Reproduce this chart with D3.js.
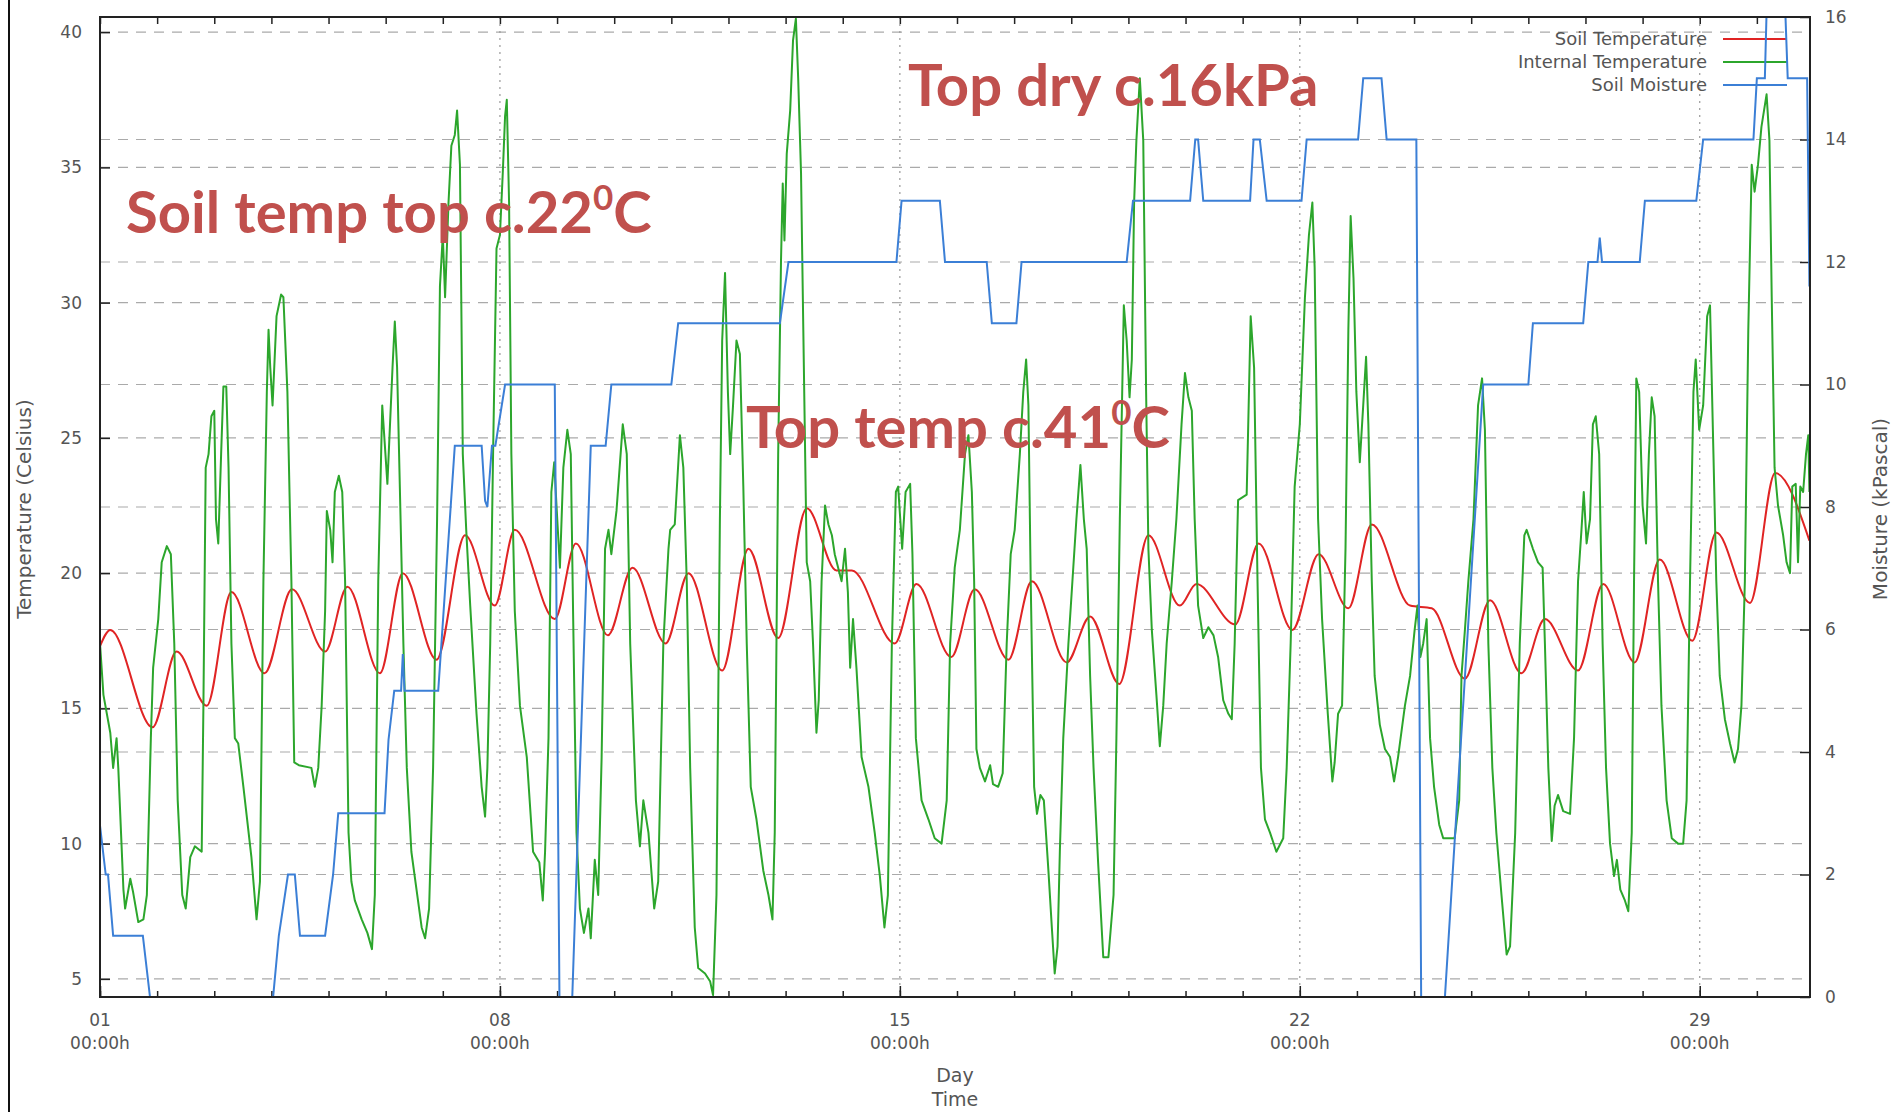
<!DOCTYPE html>
<html>
<head>
<meta charset="utf-8">
<script src="https://cdn.jsdelivr.net/npm/d3@7"></script>
<style>
  body { margin: 0; background: #fff; }
  svg { display: block; }
</style>
</head>
<body>
<div id="chart"></div>
<script>
// readings: [day of month, value]
let soilTemp = [
  [1.00,17.3],[1.18,17.9],[1.92,14.3],[2.34,17.1],[2.87,15.1],[3.30,19.3],[3.88,16.3],[4.36,19.4],
  [4.94,17.1],[5.33,19.5],[5.90,16.3],[6.30,20.0],[6.89,16.8],[7.39,21.4],[7.91,18.8],[8.26,21.6],
  [8.96,18.3],[9.33,21.1],[9.89,17.7],[10.32,20.2],[10.90,17.4],[11.30,20.0],[11.89,16.4],[12.35,20.9],
  [12.87,17.6],[13.37,22.4],[13.89,20.1],[14.16,20.1],[14.91,17.4],[15.29,19.6],[15.90,16.9],[16.31,19.4],
  [16.90,16.8],[17.31,19.7],[17.92,16.7],[18.33,18.4],[18.84,15.9],[19.35,21.4],[19.90,18.8],[20.19,19.6],
  [20.87,18.1],[21.28,21.1],[21.87,17.9],[22.33,20.7],[22.85,18.7],[23.26,21.8],[23.93,18.8],[24.31,18.7],
  [24.89,16.1],[25.33,19.0],[25.88,16.3],[26.29,18.3],[26.87,16.4],[27.31,19.6],[27.86,16.7],[28.30,20.5],
  [28.87,17.5],[29.29,21.5],[29.88,18.9],[30.32,23.7],[30.92,21.2]
];

let internalTemp = [
  [1.00,17.4],[1.06,15.5],[1.18,14.1],[1.23,12.8],[1.29,13.9],[1.32,12.8],[1.41,8.3],[1.44,7.6],[1.53,8.7],
  [1.58,8.2],[1.67,7.1],[1.76,7.2],[1.82,8.1],[1.89,13.9],[1.93,16.5],[2.02,18.3],[2.08,20.4],[2.17,21.0],
  [2.24,20.7],[2.30,17.4],[2.36,11.6],[2.44,8.1],[2.50,7.6],[2.58,9.5],[2.66,9.9],[2.78,9.7],[2.81,15.1],
  [2.85,23.9],[2.90,24.4],[2.95,25.8],[3.00,26.0],[3.03,22.0],[3.07,21.1],[3.12,24.4],[3.16,26.9],[3.21,26.9],
  [3.25,23.9],[3.30,17.4],[3.36,13.9],[3.42,13.7],[3.51,12.1],[3.65,9.5],[3.74,7.2],[3.80,8.6],[3.86,19.7],
  [3.92,26.7],[3.95,29.0],[3.98,27.6],[4.02,26.2],[4.09,29.5],[4.17,30.3],[4.21,30.2],[4.28,26.7],[4.35,19.7],
  [4.40,13.0],[4.48,12.9],[4.70,12.8],[4.76,12.1],[4.82,12.8],[4.88,15.1],[4.94,18.6],[4.97,22.3],[5.03,21.6],
  [5.07,20.4],[5.11,23.0],[5.18,23.6],[5.24,23.0],[5.29,19.7],[5.35,10.4],[5.40,8.6],[5.46,7.9],[5.58,7.2],
  [5.68,6.7],[5.76,6.1],[5.81,8.1],[5.87,19.7],[5.94,26.2],[6.03,23.3],[6.12,27.6],[6.16,29.3],[6.20,27.6],
  [6.25,23.0],[6.31,17.4],[6.37,12.8],[6.45,9.7],[6.54,8.3],[6.63,6.9],[6.69,6.5],[6.76,7.6],[6.83,12.8],
  [6.90,22.0],[6.95,30.6],[7.00,32.5],[7.04,30.2],[7.10,33.7],[7.15,35.8],[7.21,36.2],[7.25,37.1],[7.30,35.1],
  [7.35,24.4],[7.41,21.6],[7.48,18.8],[7.59,14.8],[7.68,12.1],[7.74,11.0],[7.78,12.8],[7.83,17.4],[7.88,24.4],
  [7.94,32.0],[8.00,32.5],[8.05,34.8],[8.09,36.9],[8.12,37.5],[8.16,33.7],[8.20,24.4],[8.26,18.6],[8.35,15.1],
  [8.47,13.2],[8.58,9.7],[8.69,9.3],[8.75,7.9],[8.79,9.7],[8.85,13.9],[8.90,23.0],[8.95,24.1],[8.99,22.5],
  [9.05,20.2],[9.11,23.9],[9.18,25.3],[9.24,24.4],[9.28,18.6],[9.34,10.4],[9.40,7.6],[9.47,6.7],[9.55,7.6],
  [9.59,6.5],[9.66,9.4],[9.72,8.1],[9.78,13.2],[9.84,20.9],[9.90,21.6],[9.95,20.7],[10.04,22.3],[10.15,25.5],
  [10.22,24.4],[10.28,17.4],[10.38,11.6],[10.45,9.9],[10.51,11.6],[10.60,10.4],[10.70,7.6],[10.77,8.6],
  [10.86,17.4],[10.95,20.9],[10.98,21.6],[11.06,21.8],[11.15,25.1],[11.21,23.9],[11.27,19.7],[11.33,12.8],
  [11.41,6.9],[11.47,5.4],[11.59,5.2],[11.68,4.9],[11.73,4.4],[11.79,8.1],[11.85,22.0],[11.89,28.6],[11.94,31.1],
  [11.99,26.7],[12.03,24.4],[12.08,26.2],[12.14,28.6],[12.20,28.1],[12.26,23.2],[12.32,17.4],[12.39,12.1],
  [12.49,10.9],[12.61,9.0],[12.70,8.1],[12.77,7.2],[12.81,10.4],[12.87,24.4],[12.92,31.6],[12.95,34.4],
  [12.98,32.3],[13.02,35.5],[13.08,37.1],[13.13,39.7],[13.18,40.5],[13.22,38.3],[13.27,34.8],[13.31,29.0],
  [13.37,20.4],[13.43,19.7],[13.48,17.4],[13.54,14.1],[13.58,15.3],[13.63,19.7],[13.69,22.5],[13.75,21.8],
  [13.81,21.4],[13.86,20.7],[13.92,20.2],[13.98,19.7],[14.04,20.9],[14.09,19.3],[14.13,16.5],[14.18,18.3],
  [14.24,16.5],[14.33,13.2],[14.45,12.1],[14.56,10.4],[14.65,8.8],[14.73,6.9],[14.79,8.1],[14.86,17.4],
  [14.93,23.0],[14.97,23.2],[15.04,20.9],[15.10,23.0],[15.18,23.3],[15.22,20.7],[15.28,13.9],[15.38,11.6],
  [15.50,10.9],[15.61,10.2],[15.73,10.0],[15.82,11.6],[15.88,17.4],[15.96,20.2],[16.05,21.6],[16.14,24.4],
  [16.20,25.1],[16.26,23.0],[16.30,19.7],[16.34,13.5],[16.40,12.8],[16.49,12.3],[16.58,12.9],[16.63,12.2],
  [16.72,12.1],[16.80,12.6],[16.87,17.4],[16.94,20.7],[17.01,21.6],[17.10,24.4],[17.16,26.7],[17.21,27.9],
  [17.25,26.2],[17.29,19.7],[17.35,12.1],[17.40,11.1],[17.46,11.8],[17.52,11.6],[17.60,9.0],[17.66,6.9],
  [17.71,5.2],[17.76,6.2],[17.80,9.7],[17.86,13.9],[17.95,17.4],[18.02,19.7],[18.09,22.0],[18.16,24.0],
  [18.22,22.0],[18.27,20.9],[18.33,16.2],[18.39,12.8],[18.47,9.3],[18.56,5.8],[18.65,5.8],[18.74,8.1],
  [18.79,13.9],[18.85,22.0],[18.92,29.9],[18.97,28.6],[19.02,26.5],[19.06,27.9],[19.10,33.7],[19.14,36.0],
  [19.20,38.3],[19.26,36.0],[19.31,26.7],[19.35,20.9],[19.41,17.9],[19.49,15.5],[19.55,13.6],[19.61,15.1],
  [19.67,17.4],[19.76,19.7],[19.84,22.0],[19.93,25.5],[19.99,27.4],[20.05,26.5],[20.11,26.0],[20.16,22.0],
  [20.22,18.8],[20.31,17.6],[20.40,18.0],[20.49,17.7],[20.57,16.9],[20.66,15.3],[20.75,14.8],[20.81,14.6],
  [20.86,17.4],[20.92,22.7],[21.07,22.9],[21.14,29.5],[21.20,27.6],[21.26,19.7],[21.32,12.8],[21.39,10.9],
  [21.48,10.4],[21.59,9.7],[21.71,10.2],[21.77,12.8],[21.84,17.4],[21.91,23.2],[22.00,25.5],[22.09,30.2],
  [22.16,32.5],[22.22,33.7],[22.26,31.3],[22.32,22.0],[22.39,18.3],[22.49,14.8],[22.57,12.3],[22.61,13.0],
  [22.67,14.8],[22.74,15.1],[22.80,20.9],[22.85,29.0],[22.89,33.2],[22.94,30.9],[22.99,26.7],[23.05,24.1],
  [23.11,26.2],[23.16,28.0],[23.20,25.5],[23.26,19.7],[23.31,16.2],[23.40,14.4],[23.49,13.5],[23.58,13.2],
  [23.65,12.3],[23.72,13.2],[23.84,15.1],[23.93,16.2],[24.01,17.9],[24.06,18.8],[24.11,16.9],[24.16,17.4],
  [24.22,18.3],[24.28,13.9],[24.35,12.1],[24.44,10.7],[24.51,10.2],[24.63,10.2],[24.71,10.2],[24.79,11.6],
  [24.83,16.2],[24.89,17.9],[24.95,19.7],[25.04,22.0],[25.12,26.2],[25.19,27.2],[25.24,25.3],[25.30,17.4],
  [25.37,12.8],[25.44,10.4],[25.53,8.1],[25.62,5.9],[25.68,6.2],[25.77,10.4],[25.85,17.4],[25.93,21.4],
  [25.97,21.6],[26.08,20.9],[26.17,20.4],[26.25,20.2],[26.29,17.4],[26.35,12.8],[26.41,10.1],[26.46,11.4],
  [26.52,11.8],[26.61,11.2],[26.73,11.1],[26.80,13.9],[26.87,19.7],[26.93,21.6],[26.97,23.0],[27.02,21.1],
  [27.08,22.0],[27.13,25.5],[27.18,25.8],[27.24,24.4],[27.30,17.4],[27.36,12.8],[27.43,10.0],[27.50,8.8],
  [27.55,9.4],[27.61,8.3],[27.69,7.9],[27.75,7.5],[27.81,10.4],[27.85,19.7],[27.89,27.2],[27.94,26.7],
  [28.00,22.5],[28.06,21.1],[28.11,24.4],[28.16,26.5],[28.21,25.8],[28.27,19.7],[28.33,15.1],[28.42,11.6],
  [28.51,10.2],[28.62,10.0],[28.71,10.0],[28.77,11.6],[28.83,19.7],[28.89,26.7],[28.93,27.9],[28.99,25.3],
  [29.06,26.2],[29.13,29.5],[29.18,29.9],[29.24,24.4],[29.29,19.7],[29.35,16.2],[29.44,14.6],[29.53,13.7],
  [29.61,13.0],[29.67,13.5],[29.73,15.1],[29.79,19.7],[29.85,29.0],[29.91,35.1],[29.96,34.1],[30.02,35.1],
  [30.08,36.5],[30.17,37.7],[30.22,36.0],[30.26,30.2],[30.31,23.9],[30.37,22.5],[30.46,21.4],[30.52,20.4],
  [30.58,20.0],[30.62,23.2],[30.68,23.3],[30.72,20.4],[30.76,23.2],[30.81,23.0],[30.86,24.4],[30.90,25.1],
  [30.92,23.0]
];

let soilMoisture = [
  [1.00,2.8],[1.10,2.0],[1.14,2.0],[1.23,1.0],[1.75,1.0],[2.00,-1],[3.93,-1],[4.13,1.0],[4.29,2.0],
  [4.41,2.0],[4.50,1.0],[4.94,1.0],[5.08,2.0],[5.17,3.0],[5.98,3.0],[6.05,4.2],[6.15,5.0],[6.27,5.0],
  [6.30,5.6],[6.33,5.0],[6.92,5.0],[7.21,9.0],[7.68,9.0],[7.74,8.1],[7.78,8.0],[7.86,9.0],[7.92,9.0],
  [8.09,10.0],[8.96,10.0],[9.05,-1],[9.23,-1],[9.59,9.0],[9.85,9.0],[9.95,10.0],[11.00,10.0],[11.12,11.0],
  [12.90,11.0],[13.05,12.0],[14.94,12.0],[15.03,13.0],[15.70,13.0],[15.79,12.0],[16.52,12.0],[16.61,11.0],
  [17.04,11.0],[17.13,12.0],[18.97,12.0],[19.08,13.0],[20.08,13.0],[20.17,14.0],[20.22,14.0],[20.31,13.0],
  [21.13,13.0],[21.19,14.0],[21.30,14.0],[21.42,13.0],[22.03,13.0],[22.12,14.0],[23.02,14.0],[23.11,15.0],
  [23.43,15.0],[23.52,14.0],[24.04,14.0],[24.13,-1],[24.48,-1],[24.54,0],[25.21,10.0],[26.00,10.0],
  [26.08,11.0],[26.96,11.0],[27.05,12.0],[27.21,12.0],[27.25,12.4],[27.29,12.0],[27.95,12.0],[28.04,13.0],
  [28.94,13.0],[29.06,14.0],[29.94,14.0],[30.00,15.0],[30.14,15.0],[30.19,16.8],[30.47,16.8],[30.54,15.0],
  [30.88,15.0],[30.92,11.6]
];

let tempTicks = [5, 10, 15, 20, 25, 30, 35, 40];
let moistureTicks = [0, 2, 4, 6, 8, 10, 12, 14, 16];
let dayMajor = [1, 8, 15, 22, 29];
let dayLabels = ["01", "08", "15", "22", "29"];
let dayMinor = d3.range(1, 31);
let seriesNames = ["Soil Temperature", "Internal Temperature", "Soil Moisture"];
let seriesColors = ["#e02424", "#2ca62c", "#3b7fd6"];
let notes = [
  { text: "Soil temp top c.22", sup: "0", tail: "C", x: 126, y: 233 },
  { text: "Top dry c.16kPa", sup: "", tail: "", x: 908, y: 106 },
  { text: "Top temp c.41", sup: "0", tail: "C", x: 746, y: 448 }
];

let w = 1901;
let h = 1112;
let pLeft = 100, pRight = 1810, pTop = 17, pBottom = 997;
let labelFont = "'DejaVu Sans', sans-serif";
let labelColor = "#555";

let svg = d3.select("#chart")
  .append("svg")
  .attr("width", w)
  .attr("height", h)
  .style("background-color", "white");

let x = d3.scaleLinear().domain([1, 30.93]).range([pLeft, pRight]);
let yT = d3.scaleLinear().domain([4.33, 40.56]).range([pBottom, pTop]);
let yM = d3.scaleLinear().domain([0, 16]).range([pBottom, pTop]);

// slide edge on the left
svg.append("line")
  .attr("x1", 9).attr("x2", 9).attr("y1", 0).attr("y2", h)
  .attr("stroke", "#111").attr("stroke-width", 2);

// grid
let grid = svg.append("g");
grid.selectAll(".gt")
  .data(tempTicks)
  .join("line")
  .attr("x1", pLeft).attr("x2", pRight)
  .attr("y1", d => yT(d)).attr("y2", d => yT(d))
  .attr("stroke", "#aaa").attr("stroke-width", 1.2)
  .attr("stroke-dasharray", "10,8");
grid.selectAll(".gm")
  .data(moistureTicks.filter(d => d > 0 && d < 16))
  .join("line")
  .attr("x1", pLeft).attr("x2", pRight)
  .attr("y1", d => yM(d)).attr("y2", d => yM(d))
  .attr("stroke", "#aaa").attr("stroke-width", 1.2)
  .attr("stroke-dasharray", "10,8");
grid.selectAll(".gx")
  .data(dayMajor.slice(1))
  .join("line")
  .attr("x1", d => x(d)).attr("x2", d => x(d))
  .attr("y1", pTop).attr("y2", pBottom)
  .attr("stroke", "#999").attr("stroke-width", 1.2)
  .attr("stroke-dasharray", "2,5");

// axes (ticks point inward like gnuplot)
function styleAxis(g) {
  g.select(".domain").remove();
  g.selectAll("line").attr("stroke", "#222").attr("stroke-width", 1.5);
  g.attr("font-family", labelFont).attr("font-size", 17);
  g.selectAll("text").attr("fill", labelColor);
}

svg.append("g")
  .attr("transform", `translate(${pLeft},0)`)
  .call(d3.axisLeft(yT).tickValues(tempTicks).tickSize(-10).tickPadding(18))
  .call(styleAxis);

svg.append("g")
  .attr("transform", `translate(${pRight},0)`)
  .call(d3.axisRight(yM).tickValues(moistureTicks).tickSize(-10).tickPadding(15))
  .call(styleAxis);

svg.append("g")
  .attr("transform", `translate(0,${pBottom})`)
  .call(d3.axisBottom(x).tickValues(dayMinor).tickSize(-6).tickFormat(""))
  .call(styleAxis);
svg.append("g")
  .attr("transform", `translate(0,${pBottom})`)
  .call(d3.axisBottom(x).tickValues(dayMajor).tickSize(-11).tickFormat(""))
  .call(styleAxis);
svg.append("g")
  .attr("transform", `translate(0,${pTop})`)
  .call(d3.axisTop(x).tickValues(dayMinor).tickSize(-7).tickFormat(""))
  .call(styleAxis);

let xl = svg.append("g")
  .attr("font-family", labelFont).attr("font-size", 17)
  .attr("fill", labelColor).attr("text-anchor", "middle");
xl.selectAll(".d")
  .data(dayMajor)
  .join("text")
  .attr("x", d => x(d)).attr("y", 1026)
  .text((d, i) => dayLabels[i]);
xl.selectAll(".t")
  .data(dayMajor)
  .join("text")
  .attr("x", d => x(d)).attr("y", 1049)
  .text("00:00h");

// axis titles
let titles = svg.append("g")
  .attr("font-family", labelFont).attr("font-size", 19)
  .attr("fill", labelColor).attr("text-anchor", "middle");
titles.append("text").attr("x", (pLeft + pRight) / 2).attr("y", 1082).text("Day");
titles.append("text").attr("x", (pLeft + pRight) / 2).attr("y", 1106).text("Time");
titles.append("text")
  .attr("transform", "translate(31,509) rotate(-90)")
  .attr("font-size", 20)
  .text("Temperature (Celsius)");
titles.append("text")
  .attr("transform", "translate(1887,509) rotate(-90)")
  .attr("font-size", 20)
  .text("Moisture (kPascal)");

// key
let key = svg.append("g").attr("font-family", labelFont).attr("font-size", 18);
seriesNames.forEach((name, i) => {
  let ky = 39 + i * 23;
  key.append("text")
    .attr("x", 1707).attr("y", ky).attr("dy", "0.35em")
    .attr("text-anchor", "end").attr("fill", labelColor)
    .text(name);
  key.append("line")
    .attr("x1", 1723).attr("x2", 1787).attr("y1", ky).attr("y2", ky)
    .attr("stroke", seriesColors[i]).attr("stroke-width", 2);
});

// plot lines
svg.append("clipPath").attr("id", "plot-clip")
  .append("rect")
  .attr("x", pLeft).attr("y", pTop)
  .attr("width", pRight - pLeft).attr("height", pBottom - pTop);

let plot = svg.append("g").attr("clip-path", "url(#plot-clip)");

let tempLine = d3.line().x(d => x(d[0])).y(d => yT(d[1]));
let soilLine = d3.line().x(d => x(d[0])).y(d => yT(d[1])).curve(d3.curveMonotoneX);
let moistLine = d3.line().x(d => x(d[0])).y(d => yM(d[1]));

plot.append("path")
  .datum(soilTemp)
  .attr("d", soilLine)
  .attr("fill", "none").attr("stroke", seriesColors[0]).attr("stroke-width", 2);

plot.append("path")
  .datum(internalTemp)
  .attr("d", tempLine)
  .attr("fill", "none").attr("stroke", seriesColors[1]).attr("stroke-width", 2)
  .attr("stroke-linejoin", "round");

plot.append("path")
  .datum(soilMoisture)
  .attr("d", moistLine)
  .attr("fill", "none").attr("stroke", seriesColors[2]).attr("stroke-width", 2);

// frame
svg.append("rect")
  .attr("x", pLeft).attr("y", pTop)
  .attr("width", pRight - pLeft).attr("height", pBottom - pTop)
  .attr("fill", "none").attr("stroke", "#222").attr("stroke-width", 2);

// callouts
let callouts = svg.append("g")
  .attr("font-family", "Lato, 'Open Sans', sans-serif")
  .attr("font-weight", 700)
  .attr("font-size", 58)
  .attr("fill", "#c0504d");
notes.forEach(n => {
  let t = callouts.append("text").attr("x", n.x).attr("y", n.y);
  t.append("tspan").text(n.text);
  if (n.sup) {
    t.append("tspan").attr("font-size", 35).attr("dy", -23).text(n.sup);
    t.append("tspan").attr("dy", 23).text(n.tail);
  }
});
</script>
</body>
</html>
